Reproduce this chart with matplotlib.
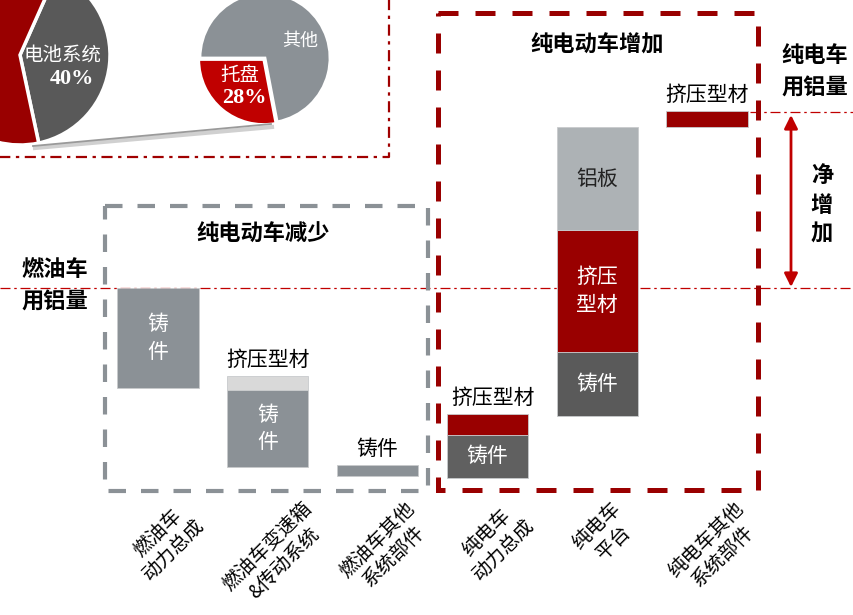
import matplotlib
matplotlib.use("Agg")
import matplotlib.pyplot as plt
import matplotlib.transforms as mtransforms
from matplotlib.patches import Rectangle

plt.rcParams['font.family'] = ['Noto Sans CJK SC', 'DejaVu Sans']

# ---------------- data ----------------
categories = ['燃油车\n动力总成', '燃油车变速箱\n&传动系统', '燃油车其他\n系统部件',
              '纯电车\n动力总成', '纯电车\n平台', '纯电车其他\n系统部件']
fuel_level = 212          # 燃油车用铝量 (relative units)
ev_level = 387            # 纯电车用铝量
seg_cat = [0, 1, 1, 2, 3, 3, 4, 4, 4, 5]
seg_bottom = [112, 33, 110, 24, 22, 65, 84, 148, 270, 373]
seg_height = [100, 77, 14, 11, 43, 21, 64, 122, 103, 16]
seg_material = ['铸件', '铸件', '挤压型材', '铸件', '铸件', '挤压型材',
                '铸件', '挤压型材', '铝板', '挤压型材']
pie_big_labels = ['电池系统', '其他部件']
pie_big_values = [40, 60]
pie_small_labels = ['托盘', '其他']
pie_small_values = [28, 72]

# ---------------- styles ----------------
seg_color = ['#8b9196', '#8b9196', '#d9d9d9', '#8b9196', '#606060', '#990000',
             '#5a5a5a', '#990000', '#adb2b5', '#990000']
seg_label_mode = ['in', 'in', 'above', 'above', 'inh', 'above', 'inh', 'in2', 'inh_dark', 'above']

W, H = 854, 615
fig = plt.figure(figsize=(W / 100, H / 100), dpi=100)

px = mtransforms.Affine2D().scale(1 / W, -1 / H).translate(0, 1) + fig.transFigure


def pie_axes(cx, cy, r):
    a = fig.add_axes([(cx - r) / W, (H - cy - r) / H, 2 * r / W, 2 * r / H])
    a.set_zorder(1)
    return a


# ---------------- pies ----------------
pa = pie_axes(20, 55, 90)
pa.pie(pie_big_values, colors=['#595959', '#990000'], startangle=-78, counterclock=True,
       radius=1, wedgeprops=dict(edgecolor='white', linewidth=2.5))
pa.set_xlim(-1, 1); pa.set_ylim(-1, 1); pa.axis('off')

pb = pie_axes(265, 58, 65)
pb.pie(pie_small_values, colors=['#c00000', '#8b9196'], startangle=180, counterclock=True,
       radius=1, explode=[0.03, 0], wedgeprops=dict(edgecolor='white', linewidth=2))
pb.set_xlim(-1, 1); pb.set_ylim(-1, 1); pb.axis('off')

# ---------------- main axes ----------------
ax = fig.add_axes([0, 0, 1, 1])
ax.set_zorder(5)
ax.patch.set_visible(False)
cat_px0, cat_step = 158, 109.8
ax.set_xlim(-cat_px0 / cat_step, (W - cat_px0) / cat_step)
ax.set_ylim(-115, 500)
ax.axis('off')

RED = '#990000'
GRAY = '#8b9196'

# reference dash-dot lines (levels)
ax.axhline(fuel_level, color='#c00000', lw=0.9, ls=(0, (8, 3, 2, 3)), zorder=1)
ax.axhline(ev_level + 1, xmin=750 / W, xmax=1, color='#c00000', lw=0.9,
           ls=(0, (8, 3, 2, 3)), zorder=1)

# bars
bar_w = 0.74
ax.bar(seg_cat, seg_height, bottom=seg_bottom, width=bar_w, color=seg_color,
       edgecolor='#c8cacc', linewidth=0.6, zorder=3)

# labels on bars
for c, b, h, m, mode in zip(seg_cat, seg_bottom, seg_height, seg_material, seg_label_mode):
    yc = b + h / 2
    if mode == 'in':
        ax.text(c, yc, '\n'.join(m), ha='center', va='center', color='white',
                fontsize=15, linespacing=1.3, zorder=5)
    elif mode == 'in2':
        ax.text(c, yc, m[:2] + '\n' + m[2:], ha='center', va='center', color='white',
                fontsize=15, linespacing=1.3, zorder=5)
    elif mode == 'inh':
        ax.text(c, yc, m, ha='center', va='center', color='white', fontsize=15, zorder=5)
    elif mode == 'inh_dark':
        ax.text(c, yc, m, ha='center', va='center', color='#222222', fontsize=15, zorder=5)
    elif mode == 'above':
        ax.text(c + (0.05 if c == 3 else 0), b + h + 16, m, ha='center', va='center',
                color='black', fontsize=15, zorder=5)

# category labels (rotated)
for i, lab in enumerate(categories):
    ax.text(i + 0.07, 2, lab, rotation=45, ha='center', va='top', ma='center',
            fontsize=14, linespacing=1.15, color='black')

# dashed boxes
ax.add_patch(Rectangle((105, 206), 323, 285, fill=False, ec=GRAY, lw=3,
                       ls=(0, (4.2, 3.6)), transform=px, clip_on=False, zorder=2))
ax.add_patch(Rectangle((438, 13), 320, 477, fill=False, ec=RED, lw=3.6,
                       ls=(0, (4.0, 3.4)), transform=px, clip_on=False, zorder=2))
# pie region dash-dot frame
ax.plot([389, 389, -5], [-5, 157, 157], color='#a00000', lw=1.6,
        ls=(0, (5, 2.5, 1.5, 2.5)), transform=px, clip_on=False, zorder=2)

# titles
ax.text(263, 234, '纯电动车减少', transform=px, ha='center', va='center',
        fontsize=16, fontweight='bold')
ax.text(597, 45, '纯电动车增加', transform=px, ha='center', va='center',
        fontsize=16, fontweight='bold')
ax.text(55, 286, '燃油车\n用铝量', transform=px, ha='center', va='center',
        fontsize=16, fontweight='bold', linespacing=1.5)
ax.text(815, 72, '纯电车\n用铝量', transform=px, ha='center', va='center',
        fontsize=16, fontweight='bold', linespacing=1.5)
ax.text(822, 205, '净\n增\n加', transform=px, ha='center', va='center',
        fontsize=16, fontweight='bold', linespacing=1.35)

# net increase arrow
ax.annotate('', xy=(791, 115), xytext=(791, 287), xycoords=px, textcoords=px,
            arrowprops=dict(arrowstyle='<|-|>', color='#c00000', lw=2,
                            mutation_scale=20, shrinkA=0, shrinkB=0))

# connector line between pies (with soft shadow)
ax.plot([35, 272], [148, 127], color='#d0d0d0', lw=3, transform=px, clip_on=False, zorder=2)
ax.plot([33, 271], [146, 124], color='#9a9a9a', lw=1.3, transform=px, clip_on=False, zorder=2)

# pie labels
ax.text(63, 55, pie_big_labels[0], transform=px, ha='center', va='center',
        color='white', fontsize=14, zorder=6)
ax.text(72, 79, f'{pie_big_values[0]}%', transform=px, ha='center', va='center',
        color='white', fontsize=16, fontweight='bold', family='Liberation Serif', zorder=6)
ax.text(240, 75, pie_small_labels[0], transform=px, ha='center', va='center',
        color='white', fontsize=14, zorder=6)
ax.text(244, 98, f'{pie_small_values[0]}%', transform=px, ha='center', va='center',
        color='white', fontsize=16, fontweight='bold', family='Liberation Serif', zorder=6)
ax.text(300, 41, pie_small_labels[1], transform=px, ha='center', va='center',
        color='white', fontsize=13, zorder=6)

fig.savefig('out.png', dpi=100)
